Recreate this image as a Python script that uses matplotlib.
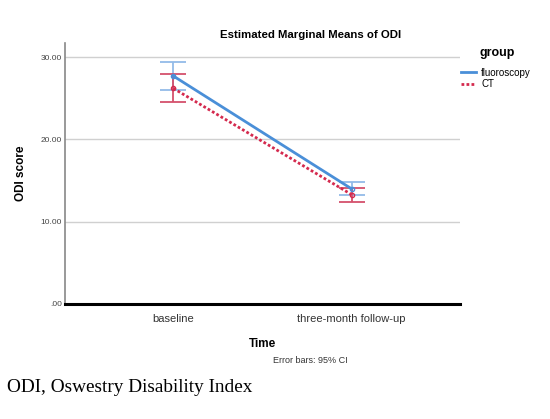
import numpy as np
import matplotlib
matplotlib.use("Agg")
import matplotlib.pyplot as plt
from matplotlib.lines import Line2D

plt.rcParams["font.family"] = ["Liberation Sans", "DejaVu Sans"]

# data
times = ["baseline", "three-month follow-up"]
fluoro_mean = [27.7, 14.0]
fluoro_lo = [26.0, 13.2]
fluoro_hi = [29.4, 14.8]
ct_mean = [26.2, 13.3]
ct_lo = [24.5, 12.4]
ct_hi = [27.9, 14.1]
yticks = [0, 10, 20, 30]
ytick_labels = [".00", "10.00", "20.00", "30.00"]

blue = "#4a8fd8"
blue_err = "#93bbe8"
red = "#d42a4e"
red_err = "#d4506c"

fig = plt.figure(figsize=(5.5, 4.19), dpi=100)
ax = fig.add_axes([0.118, 0.2745, 0.718, 0.6236])
x = np.arange(len(times))

ax.errorbar(x, fluoro_mean,
            yerr=[np.subtract(fluoro_mean, fluoro_lo), np.subtract(fluoro_hi, fluoro_mean)],
            fmt="none", ecolor=blue_err, elinewidth=1.3, capsize=9.5, capthick=1.3, zorder=3)
ax.errorbar(x, ct_mean,
            yerr=[np.subtract(ct_mean, ct_lo), np.subtract(ct_hi, ct_mean)],
            fmt="none", ecolor=red_err, elinewidth=1.3, capsize=9.5, capthick=1.3, zorder=3)
ax.plot(x, fluoro_mean, color=blue, lw=2, marker="o", ms=3, mfc="none", mec=blue, zorder=4)
ax.plot(x, ct_mean, color=red, lw=2, ls=(0, (1, 0.8)), marker="o", ms=3, mfc="none", mec=red, zorder=4)

ax.set_xlim(-0.609, 1.608)
ax.set_ylim(0, 31.75)
ax.set_yticks(yticks)
ax.set_yticklabels(ytick_labels, fontsize=6, color="#444444")
ax.set_xticks(x)
ax.set_xticklabels(times, fontsize=8, color="#333333")
ax.tick_params(axis="both", length=0, pad=2)
ax.tick_params(axis="x", pad=7)
ax.grid(axis="y", color="#d0d0d0", lw=1)
ax.set_axisbelow(True)
for s in ["top", "right"]:
    ax.spines[s].set_visible(False)
ax.spines["left"].set_color("#888888")
ax.spines["left"].set_linewidth(1.2)
ax.spines["bottom"].set_color("black")
ax.spines["bottom"].set_linewidth(2.2)
ax.set_xlabel("Time", fontsize=8.5, fontweight="bold")
ax.xaxis.set_label_coords(0.5, -0.13)
ax.set_ylabel("ODI score", fontsize=8.5, fontweight="bold")
ax.yaxis.set_label_coords(-0.096, 0.5)

fig.text(0.564, 0.917, "Estimated Marginal Means of ODI", ha="center", va="center",
         fontsize=8.2, fontweight="bold")
fig.text(0.564, 0.139, "Error bars: 95% CI", ha="center", va="center", fontsize=6.5,
         color="#333333")
fig.text(0.013, 0.076, "ODI, Oswestry Disability Index", ha="left", va="center",
         fontsize=13.9, family="Liberation Serif")

# legend
fig.text(0.871, 0.873, "group", ha="left", va="center", fontsize=9, fontweight="bold")
handles = [Line2D([], [], color=blue, lw=2),
           Line2D([], [], color=red, lw=2, ls=(0, (1, 0.8)))]
fig.legend(handles, ["fluoroscopy", "CT"], loc="upper left",
           bbox_to_anchor=(0.829, 0.85), frameon=False, fontsize=7,
           handlelength=1.6, handletextpad=0.5, labelspacing=0.15, borderpad=0)

fig.savefig("out.png", dpi=100, facecolor="white")
